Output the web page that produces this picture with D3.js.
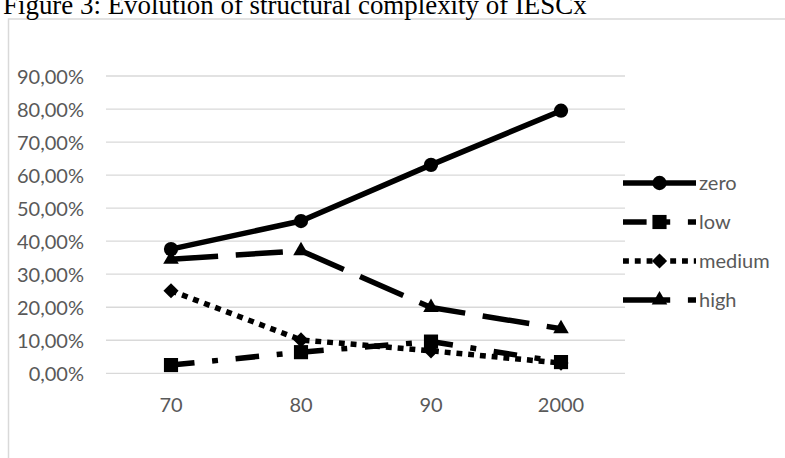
<!DOCTYPE html>
<html>
<head>
<meta charset="utf-8">
<script src="https://cdn.jsdelivr.net/npm/d3@7"></script>
<style>
  html, body { margin: 0; padding: 0; background: #fff; }
  svg { display: block; }
</style>
</head>
<body>
<script>
// ---- data ----
const categories = ["70", "80", "90", "2000"];
const zero   = [0.376, 0.461, 0.631, 0.795];
const low    = [0.025, 0.064, 0.096, 0.034];
const medium = [0.250, 0.101, 0.068, 0.031];
const high   = [0.345, 0.371, 0.199, 0.135];
const seriesNames = ["zero", "low", "medium", "high"];
const yTicks = [0, 0.1, 0.2, 0.3, 0.4, 0.5, 0.6, 0.7, 0.8, 0.9];
const title = "Figure 3: Evolution of structural complexity of IESCx";

const W = 785, H = 458;
const svg = d3.select("body").append("svg").attr("width", W).attr("height", H);

// chart frame
svg.append("rect").attr("x", 8.5).attr("y", 19).attr("width", 900).attr("height", 600)
  .attr("fill", "none").attr("stroke", "#d9d9d9").attr("stroke-width", 1.5);

// title
const t = svg.append("text").attr("x", 3).attr("y", 14)
  .attr("font-family", "'Liberation Serif','Times New Roman',serif")
  .attr("font-size", 100).attr("fill", "#000").text(title);
const tl = t.node().getComputedTextLength();
t.attr("font-size", 100 * 584 / tl);

const x = d3.scaleBand().domain(categories).range([106, 626]);
const y = d3.scaleLinear().domain([0, 0.9]).range([373.3, 76]);

const fmt = v => d3.format(".2f")(v * 100).replace(".", ",") + "%";
const labelFont = "Lato, 'Open Sans', sans-serif";

// gridlines
svg.append("g").selectAll("line").data(yTicks).join("line")
  .attr("x1", 106).attr("x2", 625)
  .attr("y1", d => y(d)).attr("y2", d => y(d))
  .attr("stroke", "#d9d9d9").attr("stroke-width", 1.3);

// y axis labels
const yAxis = d3.axisLeft(y).tickValues(yTicks).tickFormat(fmt).tickSize(0).tickPadding(0);
const gy = svg.append("g").attr("transform", "translate(84,0)").call(yAxis);
gy.select(".domain").remove();
gy.selectAll("text").attr("font-family", labelFont).attr("font-size", 20).attr("fill", "#595959")
  .attr("dy", "0.36em");

// x axis labels
const xAxis = d3.axisBottom(x).tickSize(0).tickPadding(0);
const gx = svg.append("g").attr("transform", "translate(0,396)").call(xAxis);
gx.select(".domain").remove();
gx.selectAll("text").attr("font-family", labelFont).attr("font-size", 20).attr("fill", "#595959")
  .attr("dy", "0.78em");

const U = 5.9;
const styles = {
  zero:   { dash: null, marker: d3.symbolCircle, size: 160, rot: 0 },
  low:    { dash: [4*U, 3*U, U, 3*U].join(","), marker: d3.symbolSquare, size: 200, rot: 0 },
  medium: { dash: [U, U].join(","), marker: d3.symbolSquare, size: 115, rot: 45 },
  high:   { dash: [8*U, 3*U].join(","), marker: d3.symbolTriangle, size: 105, rot: 0 }
};
const dataMap = { zero, low, medium, high };

const line = d3.line().x((d, i) => x(categories[i]) + x.bandwidth() / 2).y(d => y(d));

seriesNames.forEach(name => {
  const st = styles[name];
  const vals = dataMap[name];
  const g = svg.append("g");
  g.append("path").attr("d", line(vals)).attr("fill", "none").attr("stroke", "#000")
    .attr("stroke-width", 5.5).attr("stroke-linejoin", "round")
    .attr("stroke-dasharray", st.dash);
  g.selectAll("path.m").data(vals).join("path").attr("class", "m")
    .attr("d", d3.symbol().type(st.marker).size(st.size))
    .attr("transform", (d, i) => `translate(${x(categories[i]) + x.bandwidth() / 2},${y(d)}) rotate(${st.rot})`)
    .attr("fill", "#000");
});

// legend
const legY = d3.scalePoint().domain(seriesNames).range([183, 300]);
const leg = svg.append("g");
seriesNames.forEach(name => {
  const st = styles[name];
  const yy = legY(name);
  leg.append("line").attr("x1", 623).attr("x2", 696).attr("y1", yy).attr("y2", yy)
    .attr("stroke", "#000").attr("stroke-width", 5.5).attr("stroke-dasharray", st.dash);
  leg.append("path").attr("d", d3.symbol().type(st.marker).size(st.size))
    .attr("transform", `translate(659.5,${yy}) rotate(${st.rot})`).attr("fill", "#000");
  leg.append("text").attr("x", 699).attr("y", yy).attr("dy", "0.36em")
    .attr("font-family", labelFont).attr("font-size", 20).attr("fill", "#595959").text(name);
});
</script>
</body>
</html>
